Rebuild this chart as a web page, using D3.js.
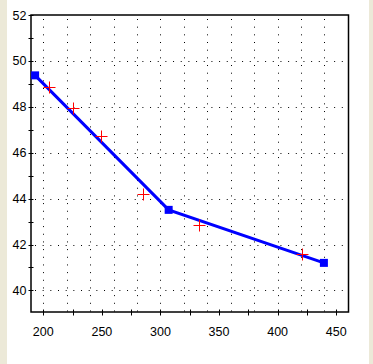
<!DOCTYPE html>
<html>
<head>
<meta charset="utf-8">
<script src="https://cdn.jsdelivr.net/npm/d3@7"></script>
<style>
  body { margin: 0; background: #ECE9D8; }
  svg { display: block; }
  .lbl { font-family: "Liberation Sans Narrow", "Arial Narrow", "Liberation Sans", Arial, sans-serif; font-size: 12.5px; fill: #000; }
</style>
</head>
<body>
<svg id="chart"></svg>
<script>
// blue polyline with square markers
var lineX = [193, 307, 439.5];
var lineY = [49.37, 43.51, 41.2];
// red cross points
var crossX = [205, 225, 249, 285, 333, 420.5];
var crossY = [48.88, 47.96, 46.74, 44.22, 42.84, 41.57];
// axis ticks
var xTicks = [200, 250, 300, 350, 400, 450];
var xMinor = [225, 275, 325, 375, 425];
var xGrid = [200, 220, 240, 260, 280, 300, 320, 340, 360, 380, 400, 420, 440];
var yTicks = [40, 42, 44, 46, 48, 50, 52];
var yMinor = [41, 43, 45, 47, 49, 51];
var yGrid = [40, 42, 44, 46, 48, 50];

var W = 373, H = 364;
var plot = {left: 31, right: 348.5, top: 15, bottom: 312};

var svg = d3.select("#chart").attr("width", W).attr("height", H);

// white panel
svg.append("rect").attr("x", 7).attr("y", 0).attr("width", 362).attr("height", H).attr("fill", "#fff");

var x = d3.scaleLinear().domain([189.5, 460.5]).range([plot.left, plot.right]);
var y = d3.scaleLinear().domain([39.06, 52]).range([plot.bottom, plot.top]);

// dotted grid
svg.append("g").selectAll("line").data(xGrid).enter().append("line")
   .attr("x1", function(d) {return Math.round(x(d)) + 0.5;})
   .attr("x2", function(d) {return Math.round(x(d)) + 0.5;})
   .attr("y1", plot.top + 4).attr("y2", plot.bottom)
   .attr("stroke", "#000").attr("stroke-width", 1)
   .attr("stroke-dasharray", "1 6.67");

svg.append("g").selectAll("line").data(yGrid).enter().append("line")
   .attr("y1", function(d) {return Math.round(y(d)) + 0.5;})
   .attr("y2", function(d) {return Math.round(y(d)) + 0.5;})
   .attr("x1", plot.left + 4).attr("x2", plot.right)
   .attr("stroke", "#000").attr("stroke-width", 1)
   .attr("stroke-dasharray", "1 6.67");

// frame
svg.append("rect")
   .attr("x", plot.left).attr("y", plot.top)
   .attr("width", plot.right - plot.left).attr("height", plot.bottom - plot.top)
   .attr("fill", "none").attr("stroke", "#000").attr("stroke-width", 1.5);

// ticks crossing the axes
var yAll = yTicks.concat(yMinor);
svg.append("g").selectAll("line").data(yAll).enter().append("line")
   .attr("x1", plot.left - 2.5).attr("x2", plot.left + 2.5)
   .attr("y1", function(d) {return Math.round(y(d)) + 0.5;})
   .attr("y2", function(d) {return Math.round(y(d)) + 0.5;})
   .attr("stroke", "#000").attr("stroke-width", 1);

var xAll = xTicks.concat(xMinor);
svg.append("g").selectAll("line").data(xAll).enter().append("line")
   .attr("y1", plot.bottom - 2.5).attr("y2", plot.bottom + 3.5)
   .attr("x1", function(d) {return Math.round(x(d)) + 0.5;})
   .attr("x2", function(d) {return Math.round(x(d)) + 0.5;})
   .attr("stroke", "#000").attr("stroke-width", 1);

// tick labels
svg.append("g").selectAll("text").data(yTicks).enter().append("text")
   .attr("class", "lbl")
   .attr("x", 26.5)
   .attr("y", function(d) {return y(d) + 4.5;})
   .attr("text-anchor", "end")
   .text(function(d) {return d;});

svg.append("g").selectAll("text").data(xTicks).enter().append("text")
   .attr("class", "lbl")
   .attr("x", function(d) {return x(d);})
   .attr("y", 335.5)
   .attr("text-anchor", "middle")
   .text(function(d) {return d;});

// blue line
var pts = lineX.map(function(d, i) {return [d, lineY[i]];});
var line = d3.line().x(function(d) {return x(d[0]);}).y(function(d) {return y(d[1]);});
svg.append("path").datum(pts).attr("d", line)
   .attr("fill", "none").attr("stroke", "#0000FF").attr("stroke-width", 3);

svg.append("g").selectAll("rect").data(pts).enter().append("rect")
   .attr("x", function(d) {return x(d[0]) - 4;})
   .attr("y", function(d) {return y(d[1]) - 4;})
   .attr("width", 8).attr("height", 8)
   .attr("fill", "#0000FF");

// red crosses
var crosses = crossX.map(function(d, i) {return [d, crossY[i]];});
var cg = svg.append("g").attr("stroke", "#FF0000").attr("stroke-width", 1);
crosses.forEach(function(d) {
  var cx = Math.round(x(d[0])) + 0.5, cy = Math.round(y(d[1])) + 0.5;
  cg.append("line").attr("x1", cx - 6).attr("x2", cx + 6).attr("y1", cy).attr("y2", cy);
  cg.append("line").attr("x1", cx).attr("x2", cx).attr("y1", cy - 6).attr("y2", cy + 6);
});
</script>
</body>
</html>
